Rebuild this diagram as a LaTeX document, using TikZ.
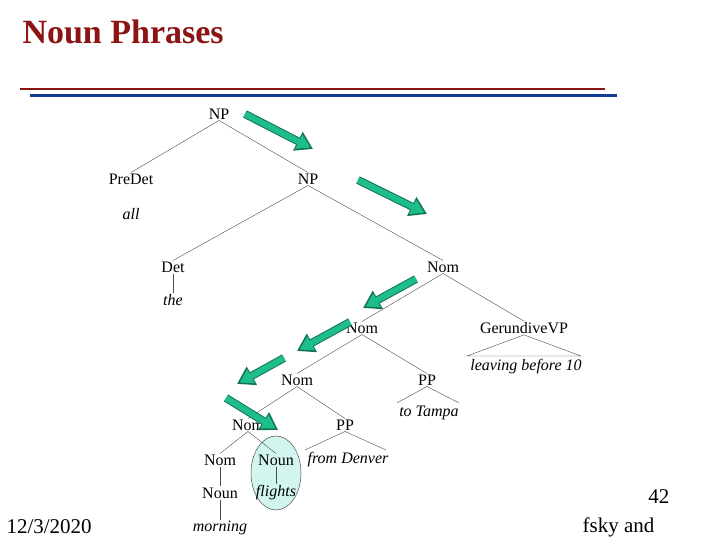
\documentclass[tikz,border=0pt]{standalone}
\usepackage{fontspec}
\setmainfont{Liberation Serif}
\usetikzlibrary{arrows.meta}
\definecolor{titlered}{RGB}{140,20,20}
\definecolor{lineblue}{RGB}{20,60,150}
\definecolor{arrowgreen}{RGB}{30,190,140}
\definecolor{circfill}{RGB}{210,245,240}
\begin{document}
\begin{tikzpicture}[x=1pt,y=-1pt,
  lab/.style={inner sep=1pt,font=\fontsize{16}{18}\selectfont},
  word/.style={lab,font=\fontsize{16}{18}\selectfont\itshape},
  br/.style={draw=black!70,line width=0.4pt},
  garrow/.style={draw=arrowgreen!60!black,line width=8pt,-{Triangle[length=17pt,width=20pt]},
    postaction={draw=arrowgreen,line width=6pt,shorten >=3pt,-{Triangle[length=13pt,width=15pt]}}}]
\useasboundingbox (0,0) rectangle (720,540);
\fill[white] (0,0) rectangle (720,540);
\node[anchor=west,text=titlered,font=\fontsize{34}{38}\selectfont\bfseries] (title) at (19,32) {Noun Phrases};
\draw[titlered,line width=2pt] (20,89) -- (605,89);
\draw[lineblue,line width=2.5pt] (30,95.5) -- (617,95.5);
% ellipse
\draw[fill=circfill,draw=black!70,line width=0.5pt] (276,473) ellipse [x radius=25,y radius=37];
% nodes
\node[lab] (np1) at (219,114) {NP};
\node[lab] (predet) at (131,179) {PreDet};
\node[word] (all) at (131,214) {all};
\node[lab] (np2) at (308,179) {NP};
\node[lab] (det) at (173,267) {Det};
\node[word] (the) at (173,300) {the};
\node[lab] (nom1) at (443,267) {Nom};
\node[lab] (nom2) at (362,328) {Nom};
\node[lab] (gvp) at (524,328) {GerundiveVP};
\node[word] (leaving) at (526,367) {leaving before 10};
\node[lab] (nom3) at (297,380) {Nom};
\node[lab] (pp1) at (427,380) {PP};
\node[word] (tampa) at (429,413) {to Tampa};
\node[lab] (nom4) at (248,425) {Nom};
\node[lab] (pp2) at (345,425) {PP};
\node[lab] (nom5) at (220,460) {Nom};
\node[lab] (noun1) at (276,460) {Noun};
\node[word] (denver) at (348,460) {from Denver};
\node[lab] (noun2) at (220,493) {Noun};
\node[word] (flights) at (276,493) {flights};
\node[word] (morning) at (220,528) {morning};
% branches
\draw[br] (np1.south) -- (predet.north);
\draw[br] (np1.south) -- (np2.north);
\draw[br] (np2.south) -- (det.north);
\draw[br] (np2.south) -- (nom1.north);
\draw[br] (det.south) -- (the.north);
\draw[br] (nom1.south) -- (nom2.north);
\draw[br] (nom1.south) -- (gvp.north);
\draw[br] (nom2.south) -- (nom3.north);
\draw[br] (nom2.south) -- (pp1.north);
\draw[br] (nom3.south) -- (nom4.north);
\draw[br] (nom3.south) -- (pp2.north);
\draw[br] (nom4.south) -- (nom5.north);
\draw[br] (nom4.south) -- (noun1.north);
\draw[br] (nom5.south) -- (noun2.north);
\draw[br] (noun2.south) -- (morning.north);
\draw[br] (noun1.south) -- (flights.north);
\coordinate (g1) at (467,356); \coordinate (g2) at (581,356);
\draw[br] (g1) -- (gvp.south) -- (g2) -- cycle;
\coordinate (t1) at (397,403); \coordinate (t2) at (459,403);
\draw[br] (t1) -- (pp1.south) -- (t2);
\coordinate (d1) at (305,450); \coordinate (d2) at (386,450);
\draw[br] (d1) -- (pp2.south) -- (d2);
% green arrows
\coordinate (a1s) at (245,114); \coordinate (a1e) at (313,149);
\coordinate (a2s) at (358,180); \coordinate (a2e) at (427,214);
\coordinate (a3s) at (416,279); \coordinate (a3e) at (363,308);
\coordinate (a4s) at (350,322); \coordinate (a4e) at (297,351);
\coordinate (a5s) at (284,358); \coordinate (a5e) at (237,384);
\coordinate (a6s) at (226,398); \coordinate (a6e) at (278,430);
\foreach \a in {1,...,6} {\draw[garrow] (a\a s) -- (a\a e);}
% footer
\node[anchor=west,font=\fontsize{21}{24}\selectfont] (date) at (3,527) {12/3/2020};
\node[anchor=east,font=\fontsize{21}{24}\selectfont] (pg) at (673,497) {42};
\begin{scope}
\clip (583,510) rectangle (720,540);
\node[anchor=east,font=\fontsize{21}{24}\selectfont] (auth) at (658,527) {Jurafsky and};
\end{scope}
\end{tikzpicture}
\end{document}
